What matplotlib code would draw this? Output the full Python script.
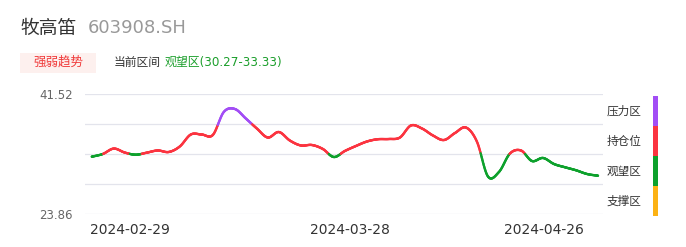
import numpy as np
import matplotlib
matplotlib.use("Agg")
import matplotlib.pyplot as plt
from matplotlib.collections import LineCollection
from matplotlib.patches import Rectangle

plt.rcParams['font.family'] = ['DejaVu Sans', 'Noto Sans CJK SC']

# daily values
prices = [32.34, 32.73, 33.53, 32.95, 32.63, 32.93, 33.25, 33.03, 33.84, 35.60,
          35.60, 35.53, 38.92, 39.36, 37.96, 36.49, 35.16, 35.97, 34.72, 33.99,
          34.06, 33.47, 32.29, 33.18, 33.91, 34.57, 34.91, 34.94, 35.16, 36.93,
          36.49, 35.46, 34.79, 35.82, 36.63, 34.54, 29.42, 30.09, 32.81, 33.25,
          31.70, 32.15, 31.26, 30.78, 30.34, 29.79, 29.54]
date_labels = ['2024-02-29', '2024-03-28', '2024-04-26']
date_label_pos = [3.5, 23.5, 41.1]
y_min, y_max = 23.86, 41.52
zone_names = ['压力区', '持仓位', '观望区', '支撑区']
zone_colors = ['#a24df5', '#fb3440', '#0da12c', '#fcb214']
red_level, purple_level = 32.75, 37.1

W, H = 686, 247
fig = plt.figure(figsize=(W / 100, H / 100), dpi=100)

def px(x, y):
    return x / W, 1 - y / H

ax = fig.add_axes([85 / W, 1 - 214.3 / H, 518 / W, 120 / H])

# smooth line (catmull-rom, for drawing only)
y = np.array(prices)
n = len(y)
pts = np.column_stack([np.arange(n), y])
ext = np.vstack([pts[0], pts, pts[-1]])
curve = []
for i in range(n - 1):
    p0, p1, p2, p3 = ext[i], ext[i + 1], ext[i + 2], ext[i + 3]
    for t in np.linspace(0, 1, 24, endpoint=False):
        t2, t3 = t * t, t * t * t
        c = 0.5 * ((2 * p1) + (-p0 + p2) * t + (2 * p0 - 5 * p1 + 4 * p2 - p3) * t2
                   + (-p0 + 3 * p1 - 3 * p2 + p3) * t3)
        curve.append(c)
curve.append(pts[-1])
curve = np.array(curve)
segs = np.stack([curve[:-1], curve[1:]], axis=1)
mid = (curve[:-1, 1] + curve[1:, 1]) / 2
cols = [zone_colors[0] if m > purple_level else zone_colors[1] if m >= red_level
        else zone_colors[2] for m in mid]
lc = LineCollection(segs, colors=cols, linewidths=1.7, capstyle='round')
ax.add_collection(lc)

ax.set_xlim(-0.61, 46.45)
ax.set_ylim(y_min, y_max)
ticks = np.linspace(y_min, y_max, 5)
for t in ticks:
    ax.axhline(t, color='#e3e4ec', lw=0.9, zorder=0)
ax.set_yticks([y_min, y_max])
ax.set_yticklabels(['%.2f' % y_min, '%.2f' % y_max])
ax.set_xticks(date_label_pos)
ax.set_xticklabels(date_labels)
ax.tick_params(axis='y', length=0, pad=9, labelsize=8.5, labelcolor='#666666')
ax.tick_params(axis='x', length=0, pad=6, labelsize=10, labelcolor='#333333')
for s in ax.spines.values():
    s.set_visible(False)

# header
fig.text(*px(20, 28), '牧高笛', fontsize=13.5, color='#333333', va='center')
fig.text(*px(88, 28), '603908.SH', fontsize=13, color='#999999', va='center')
fig.add_artist(Rectangle(px(20, 73), 76 / W, 20 / H, transform=fig.transFigure,
                         facecolor='#fdf0ee', edgecolor='none'))
fig.text(*px(58, 62.5), '强弱趋势', fontsize=9, color='#f03a3a', ha='center', va='center')
fig.text(*px(114, 62.5), '当前区间', fontsize=8.5, color='#333333', va='center')
fig.text(*px(165, 62.5), '观望区(30.27-33.33)', fontsize=8.6, color='#1a9e2a', va='center')

# zone legend
zone_y = [111, 141, 171, 201]
for name, yy in zip(zone_names, zone_y):
    fig.text(*px(607, yy), name, fontsize=8.4, color='#333333', va='center')
for k, c in enumerate(zone_colors):
    top = 96 + 30 * k
    fig.add_artist(Rectangle(px(653, top + 30), 5 / W, 30 / H, transform=fig.transFigure,
                             facecolor=c, edgecolor='none'))

fig.savefig('out.png', dpi=100)
